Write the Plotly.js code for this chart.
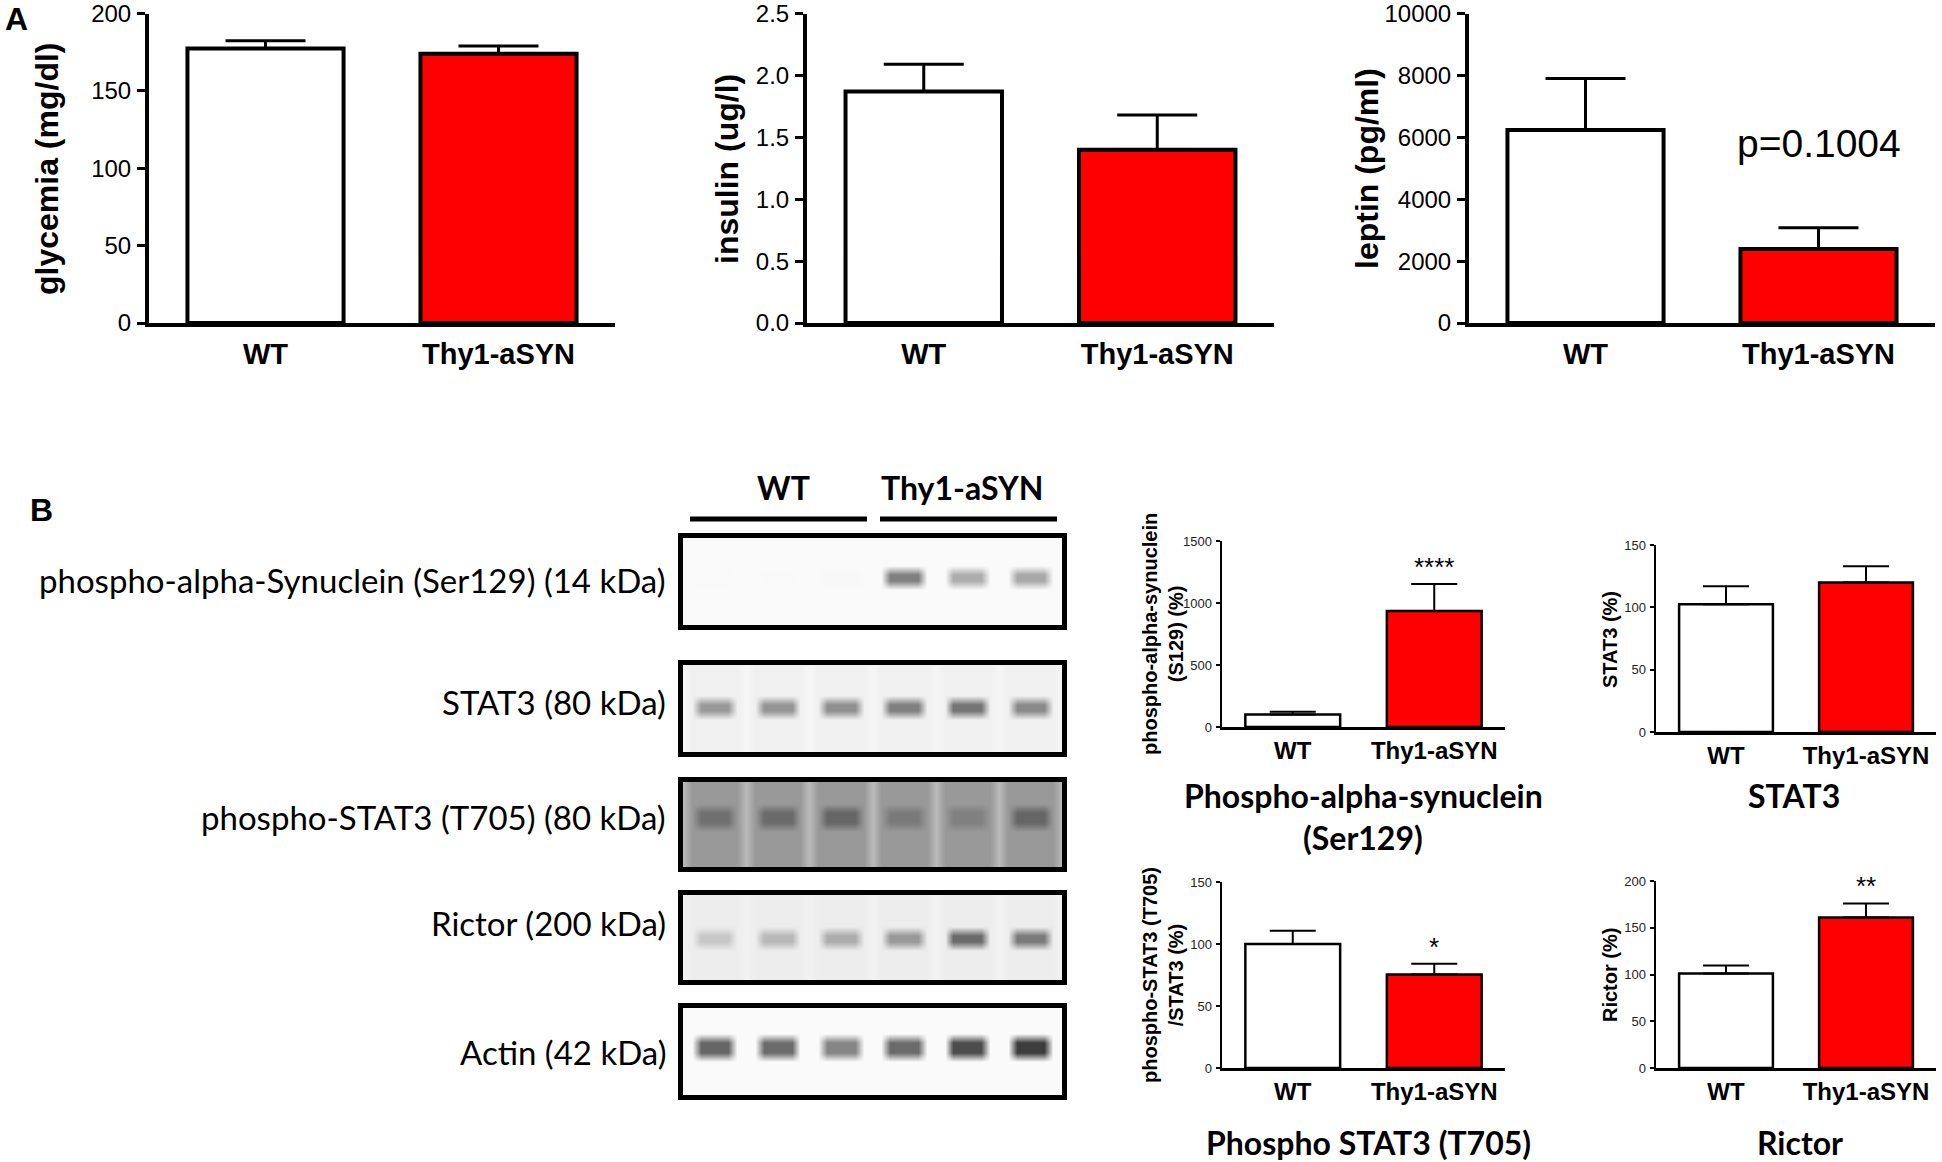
<!DOCTYPE html>
<html><head><meta charset="utf-8">
<script src="https://cdn.plot.ly/plotly-3.0.1.min.js"></script>
<style>html,body{margin:0;padding:0;background:#fff}</style>
</head><body><div id="chart" style="width:1942px;height:1162px"></div>
<script>
// ---------------- data ----------------
const categories = ['WT', 'Thy1-aSYN'];
const glycemia = [177.5, 174.0];
const glycemiaSem = [5.0, 5.0];
const insulin = [1.87, 1.40];
const insulinSem = [0.22, 0.28];
const leptin = [6240, 2390];
const leptinSem = [1660, 690];
const leptinPValue = 'p=0.1004';

const pSyn = [100, 935];
const pSynSem = [22, 218];
const pSynStars = ['', '****'];
const stat3 = [102.5, 120];
const stat3Sem = [14.5, 13];
const stat3Stars = ['', ''];
const pStat3 = [100, 75.4];
const pStat3Sem = [10.7, 8.6];
const pStat3Stars = ['', '*'];
const rictor = [101, 161];
const rictorSem = [8.7, 15];
const rictorStars = ['', '**'];

// western blot: 6 lanes (3 WT, 3 Thy1-aSYN); band darkness 0 (white) .. 1 (black)
const lanes = [1, 2, 3, 4, 5, 6];
const blotLabels = ['phospho-alpha-Synuclein (Ser129) (14 kDa)', 'STAT3 (80 kDa)',
  'phospho-STAT3 (T705) (80 kDa)', 'Rictor (200 kDa)', 'Actin (42 kDa)'];
const bandPSyn   = [0.025, 0.022, 0.028, 0.50, 0.32, 0.34];
const bandStat3  = [0.40, 0.42, 0.44, 0.50, 0.54, 0.46];
const bandPStat3 = [0.56, 0.58, 0.60, 0.52, 0.50, 0.60];
const bandRictor = [0.22, 0.28, 0.32, 0.40, 0.58, 0.52];
const bandActin  = [0.60, 0.58, 0.48, 0.58, 0.70, 0.76];
const laneBackground = [0.02, 0.06, 0.40, 0.07, 0.02];
const gapBackground  = [0.02, 0.035, 0.27, 0.05, 0.02];

// ---------------- helpers ----------------
const W = 1942, H = 1162;
const fx = p => p / W;
const fy = p => 1 - p / H;
const xdom = (a, b) => [fx(a), fx(b)];
const ydom = (top, bottom) => [fy(bottom), fy(top)];
const ARIAL = 'Liberation Sans, Arial, sans-serif';
const CAL = 'Lato, Carlito, sans-serif';

const traces = [];
const layout = {
  width: W, height: H, margin: {l: 0, r: 0, t: 0, b: 0},
  paper_bgcolor: '#ffffff', plot_bgcolor: 'rgba(0,0,0,0)',
  showlegend: false, annotations: [], shapes: []
};

function barChart(n, xpx, ypx, vals, sems, ymax, dtick, fmt, big, stars) {
  const xa = n === 1 ? 'x' : 'x' + n, ya = n === 1 ? 'y' : 'y' + n;
  const lw = big ? 4 : 2.5;
  traces.push({
    type: 'bar', x: categories, y: vals, xaxis: xa, yaxis: ya, width: 0.67,
    marker: {color: ['#ffffff', '#ff0000'], line: {color: '#000000', width: lw}},
    error_y: {type: 'data', symmetric: false, array: sems, arrayminus: [0, 0],
      color: '#000000', thickness: big ? 3 : 2, width: big ? 40 : 23},
    hoverinfo: 'skip'
  });
  layout[n === 1 ? 'xaxis' : 'xaxis' + n] = {
    domain: xdom(xpx[0], xpx[1]), anchor: ya, type: 'category', range: [-0.5, 1.5],
    showline: true, linewidth: lw, linecolor: '#000', ticks: '', showgrid: false, zeroline: false,
    tickfont: {family: ARIAL, size: big ? 29 : 24, color: '#000', weight: 'bold'},
    ticklabelstandoff: big ? 2 : 1, ticklabeloverflow: 'allow', fixedrange: true
  };
  layout[n === 1 ? 'yaxis' : 'yaxis' + n] = {
    domain: ydom(ypx[0], ypx[1]), anchor: xa, range: [0, ymax],
    showline: true, linewidth: lw, linecolor: '#000', ticks: 'outside',
    ticklen: big ? 8 : 4, tickwidth: big ? 3 : 2, tickcolor: '#000',
    tick0: 0, dtick: dtick, tickformat: fmt, showgrid: false, zeroline: false,
    tickfont: {family: ARIAL, size: big ? 24 : 13, color: big ? '#000' : '#222'},
    ticklabelstandoff: 1, ticklabeloverflow: 'allow', fixedrange: true
  };
  if (stars) {
    stars.forEach((s, i) => {
      if (!s) return;
      layout.annotations.push({xref: xa, yref: ya, x: categories[i], y: vals[i] + sems[i],
        text: s, showarrow: false, yanchor: 'middle', yshift: 17,
        font: {family: ARIAL, size: 26, color: '#000'}});
    });
  }
}

// Panel A
barChart(1, [149, 615], [13.6, 323], glycemia, glycemiaSem, 200, 50, '', true);
barChart(2, [807, 1274], [13.6, 323], insulin, insulinSem, 2.5, 0.5, '.1f', true);
barChart(3, [1469, 1935], [13.6, 323], leptin, leptinSem, 10000, 2000, 'd', true);
// Panel B quantification
barChart(4, [1222, 1505], [541, 727], pSyn, pSynSem, 1500, 500, 'd', false, pSynStars);
barChart(5, [1656, 1936], [545, 732], stat3, stat3Sem, 150, 50, 'd', false, stat3Stars);
barChart(6, [1222, 1505], [882, 1068], pStat3, pStat3Sem, 150, 50, 'd', false, pStat3Stars);
barChart(7, [1656, 1936], [881, 1068], rictor, rictorSem, 200, 50, 'd', false, rictorStars);

function ann(x, y, text, font, extra) {
  layout.annotations.push(Object.assign({xref: 'paper', yref: 'paper', x: fx(x), y: fy(y),
    text: text, showarrow: false, xanchor: 'center', yanchor: 'middle', font: font}, extra || {}));
}
const boldA = (s) => ({family: ARIAL, size: s, color: '#000', weight: 'bold'});
const boldC = (s) => ({family: CAL, size: s, color: '#000', weight: 'bold'});
const regC = (s) => ({family: CAL, size: s, color: '#000'});

// y axis titles
ann(47, 169, 'glycemia (mg/dl)', boldA(32), {textangle: -90});
ann(727, 169, 'insulin (ug/l)', boldA(32), {textangle: -90});
ann(1367, 169, 'leptin (pg/ml)', boldA(32), {textangle: -90});
layout.annotations.push({xref: 'x3', yref: 'y3', x: categories[1], y: 5800, text: leptinPValue,
  showarrow: false, font: {family: ARIAL, size: 39, color: '#000'}});
ann(1163, 634, 'phospho-alpha-synuclein<br>(S129) (%)', boldA(20), {textangle: -90});
ann(1610, 640, 'STAT3 (%)', boldA(20), {textangle: -90});
ann(1163, 975, 'phospho-STAT3 (T705)<br>/STAT3 (%)', boldA(20), {textangle: -90});
ann(1610, 975, 'Rictor (%)', boldA(20), {textangle: -90});

// chart titles of panel B
ann(1363, 795, 'Phospho-alpha-synuclein', boldC(32));
ann(1363, 837, '(Ser129)', boldC(32));
ann(1794, 795, 'STAT3', boldC(32));
ann(1368, 1142, 'Phospho STAT3 (T705)', boldC(32));
ann(1800, 1142, 'Rictor', boldC(32));

// panel letters
ann(16, 19, 'A', boldA(32));
ann(41, 510, 'B', boldA(32));

// ---------------- western blot ----------------
const blotX = [683, 1062];
const blotY = [533, 1100];
layout.xaxis8 = {domain: xdom(blotX[0], blotX[1]), anchor: 'y8', range: [0.5, 6.5], visible: false, fixedrange: true};
layout.yaxis8 = {domain: ydom(blotY[0], blotY[1]), anchor: 'x8', range: [blotY[1], blotY[0]], visible: false, fixedrange: true};

const rowOuter = [[533, 630], [660, 757], [777, 872], [890, 985], [1003, 1100]];
const rowBand = [577, 707, 817, 938, 1047];
const rowHalf = [3, 3, 5, 3, 5];
const labelY = [580, 702, 817, 923, 1052];
const bandSets = [bandPSyn, bandStat3, bandPStat3, bandRictor, bandActin];

bandSets.forEach((bands, r) => {
  const top = rowOuter[r][0] + 5, bottom = rowOuter[r][1] - 5;
  const yc = rowBand[r], hh = rowHalf[r];
  const lb = laneBackground[r], gb = gapBackground[r];
  const xs = [0.5, 0.501], cols = [null, null];
  lanes.forEach((ln, i) => {
    xs.push(ln - 0.36, ln - 0.22, ln + 0.22, ln + 0.36, ln + 0.5);
    cols.push({i: i, b: false}, {i: i, b: true}, {i: i, b: true}, {i: i, b: false}, null);
  });
  xs.push(6.501); cols.push(null);
  const ys = [top, top + 1, yc - hh - 9, yc - hh, yc + hh, yc + hh + 9, bottom - 1, bottom];
  const inBand = [false, false, false, true, true, false, false, false];
  const z = ys.map((y, j) => cols.map(c => c === null ? gb : (c.b && inBand[j] ? Math.max(bands[c.i], lb) : lb)));
  traces.push({type: 'heatmap', x: xs, y: ys, z: z, xaxis: 'x8', yaxis: 'y8',
    zmin: 0, zmax: 1, zsmooth: 'best', showscale: false, hoverinfo: 'skip',
    colorscale: [[0, 'rgb(255,255,255)'], [1, 'rgb(0,0,0)']]});
  layout.shapes.push({type: 'rect', xref: 'paper', yref: 'paper', layer: 'above',
    x0: fx(680.5), x1: fx(1064.5), y0: fy(rowOuter[r][0] + 2.5), y1: fy(rowOuter[r][1] - 2.5),
    line: {color: '#000', width: 5}, fillcolor: 'rgba(0,0,0,0)'});
  ann(668, labelY[r], blotLabels[r], regC(33), {xanchor: 'right'});
});

// group header
ann(783, 487, categories[0], boldC(32));
ann(962, 487, categories[1], boldC(32));
layout.shapes.push({type: 'line', xref: 'paper', yref: 'paper', x0: fx(690), x1: fx(867), y0: fy(519), y1: fy(519), line: {color: '#000', width: 5}});
layout.shapes.push({type: 'line', xref: 'paper', yref: 'paper', x0: fx(880), x1: fx(1057), y0: fy(519), y1: fy(519), line: {color: '#000', width: 5}});

Plotly.newPlot('chart', traces, layout, {displayModeBar: false, staticPlot: true});
</script></body></html>
